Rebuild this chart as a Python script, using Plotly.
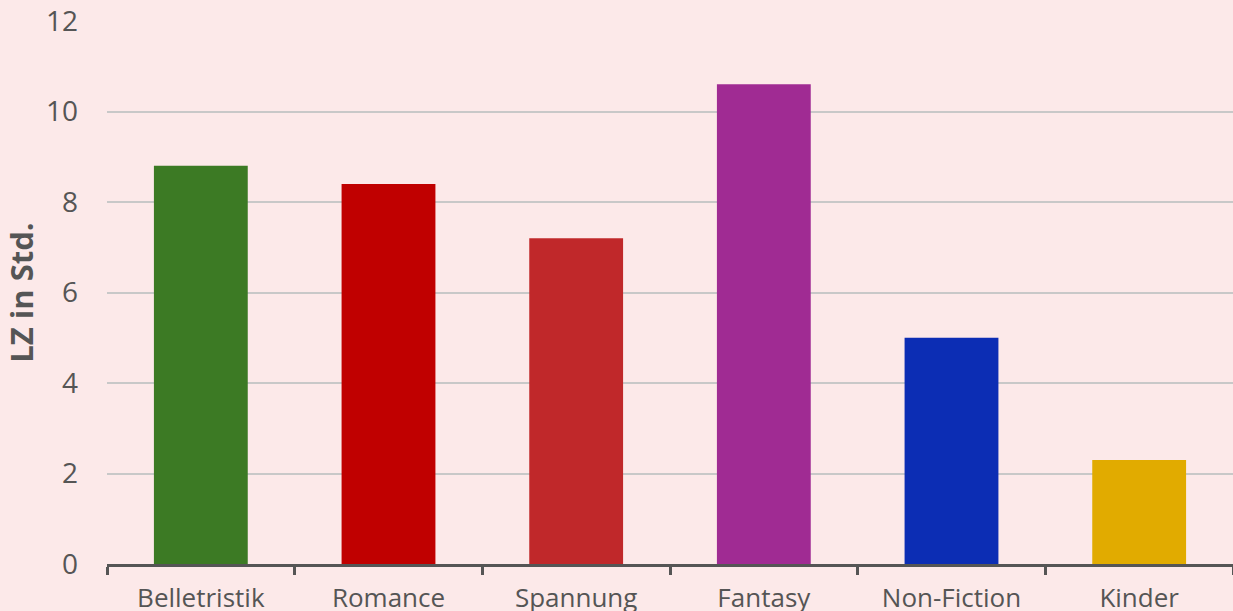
import plotly.graph_objects as go

# Lesezeit nach Genre
categories = ["Belletristik", "Romance", "Spannung", "Fantasy", "Non-Fiction", "Kinder"]
hours = [8.8, 8.4, 7.2, 10.6, 5.0, 2.3]
bar_colors = ["#3c7a24", "#c00000", "#c0282a", "#a02b93", "#0c2db4", "#e1ab00"]
y_ticks = [0, 2, 4, 6, 8, 10, 12]

bg = "#fce9e9"
text_color = "#555555"
font_family = "Open Sans, Lato, sans-serif"

fig = go.Figure(
    go.Bar(
        x=categories,
        y=hours,
        marker=dict(color=bar_colors, line=dict(width=0)),
        width=0.5,
        hoverinfo="x+y",
    )
)

fig.update_layout(
    width=1233,
    height=611,
    margin=dict(l=107, r=0, t=21, b=47),
    paper_bgcolor=bg,
    plot_bgcolor=bg,
    showlegend=False,
    font=dict(family=font_family, color=text_color),
    bargap=0.5,
)

fig.update_xaxes(
    type="category",
    automargin=False,
    showline=True,
    linewidth=3,
    linecolor=text_color,
    ticks="outside",
    tickson="boundaries",
    ticklen=8,
    tickwidth=3,
    tickcolor=text_color,
    tickfont=dict(size=26, color=text_color),
    ticklabelstandoff=9,
    showgrid=False,
)

fig.update_yaxes(
    range=[0, 12],
    automargin=False,
    tickvals=y_ticks,
    showgrid=True,
    gridcolor="#c8c8c8",
    gridwidth=2,
    zeroline=False,
    showline=False,
    tickfont=dict(size=28, color=text_color),
    ticklabelstandoff=28,
    title=dict(
        text="<b>LZ in Std.</b>",
        font=dict(size=31, color=text_color),
        standoff=8,
    ),
)

fig.write_html("out.html")
